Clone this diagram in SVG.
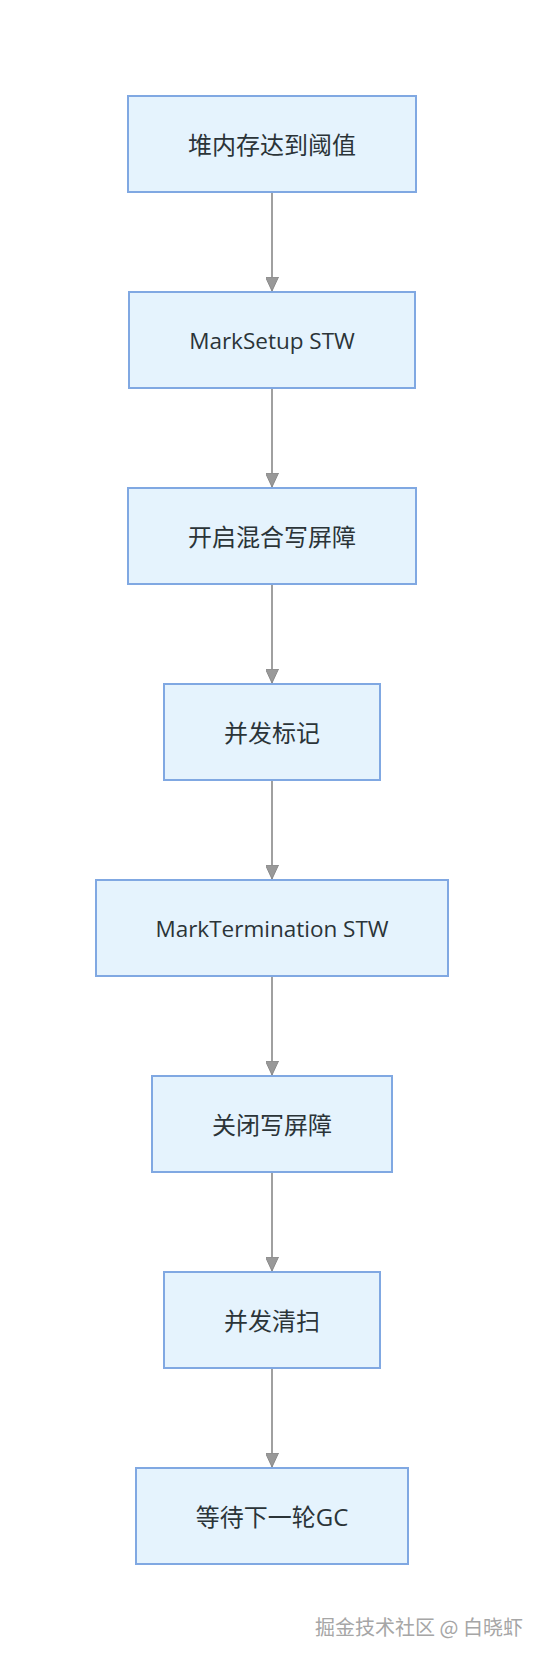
<svg xmlns="http://www.w3.org/2000/svg" width="544" height="1660" viewBox="0 0 544 1660">
<style>
.node rect{fill:#e5f3fd;stroke:#80a8e2;stroke-width:2}
.node text{font-family:"Open Sans","Noto Sans CJK SC",sans-serif;font-size:24px;fill:#2b3438;text-anchor:middle;dominant-baseline:central}
.node text.lat{font-size:22.5px}
.edge{stroke:#a0a0a0;stroke-width:2;fill:none}
.wm{font-family:"Noto Sans CJK SC",sans-serif;font-size:20px;fill:#a6a6a6;text-anchor:end}
</style>
<defs>
<marker id="arr" viewBox="0 0 14 13" refX="14" refY="6.5" markerWidth="14" markerHeight="13" markerUnits="userSpaceOnUse" orient="auto">
<path d="M0,0 L14,6.5 L0,13 Z" fill="#999" stroke="#8a8a8a" stroke-width="1"/>
</marker>
</defs>
<rect width="544" height="1660" fill="#fff"/>
<g id="connectors">
<line class="edge" x1="272" y1="192" x2="272" y2="291" marker-end="url(#arr)"/>
<line class="edge" x1="272" y1="388" x2="272" y2="487" marker-end="url(#arr)"/>
<line class="edge" x1="272" y1="584" x2="272" y2="683" marker-end="url(#arr)"/>
<line class="edge" x1="272" y1="780" x2="272" y2="879" marker-end="url(#arr)"/>
<line class="edge" x1="272" y1="976" x2="272" y2="1075" marker-end="url(#arr)"/>
<line class="edge" x1="272" y1="1172" x2="272" y2="1271" marker-end="url(#arr)"/>
<line class="edge" x1="272" y1="1368" x2="272" y2="1467" marker-end="url(#arr)"/>
</g>
<g id="n1" class="node"><rect x="128" y="96" width="288" height="96"/><text x="272" y="144">堆内存达到阈值</text></g>
<g id="n2" class="node"><rect x="129" y="292" width="286" height="96"/><text class="lat" x="272" y="340">MarkSetup STW</text></g>
<g id="n3" class="node"><rect x="128" y="488" width="288" height="96"/><text x="272" y="536">开启混合写屏障</text></g>
<g id="n4" class="node"><rect x="164" y="684" width="216" height="96"/><text x="272" y="732">并发标记</text></g>
<g id="n5" class="node"><rect x="96" y="880" width="352" height="96"/><text class="lat" x="272" y="928">MarkTermination STW</text></g>
<g id="n6" class="node"><rect x="152" y="1076" width="240" height="96"/><text x="272" y="1124">关闭写屏障</text></g>
<g id="n7" class="node"><rect x="164" y="1272" width="216" height="96"/><text x="272" y="1320">并发清扫</text></g>
<g id="n8" class="node"><rect x="136" y="1468" width="272" height="96"/><text x="272" y="1516">等待下一轮GC</text></g>
<text class="wm" x="523" y="1635">掘金技术社区 @ 白晓虾</text>
</svg>
